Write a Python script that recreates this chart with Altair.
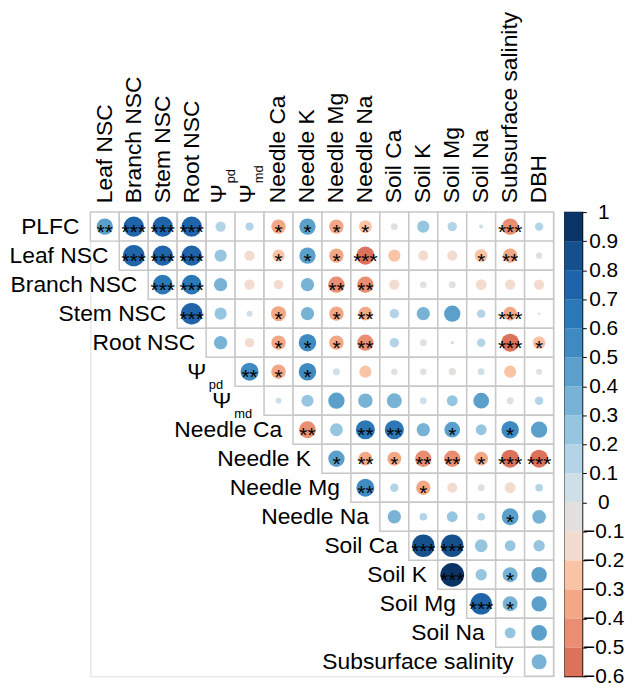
import altair as alt
import pandas as pd

FONT = "Liberation Sans"

# ---- variables ----
row_main = ["PLFC", "Leaf NSC", "Branch NSC", "Stem NSC", "Root NSC", "Ψ", "Ψ",
            "Needle Ca", "Needle K", "Needle Mg", "Needle Na", "Soil Ca", "Soil K",
            "Soil Mg", "Soil Na", "Subsurface salinity"]
row_sub = ["", "", "", "", "", "pd", "md", "", "", "", "", "", "", "", "", ""]
col_main = ["Leaf NSC", "Branch NSC", "Stem NSC", "Root NSC", "Ψ", "Ψ",
            "Needle Ca", "Needle K", "Needle Mg", "Needle Na", "Soil Ca", "Soil K",
            "Soil Mg", "Soil Na", "Subsurface salinity", "DBH"]
col_sub = ["", "", "", "", "pd", "md", "", "", "", "", "", "", "", "", "", ""]

# ---- correlations (upper triangle, each row starts at its diagonal column) ----
r_plfc = [0.45, 0.7, 0.7, 0.7, 0.18, 0.11, -0.35, 0.45, -0.35, -0.28, -0.08, 0.25, 0.15, 0.03, -0.45, 0.12]
r_leaf = [0.78, 0.7, 0.7, 0.25, -0.18, -0.25, 0.45, -0.35, -0.55, -0.25, -0.17, -0.17, -0.28, -0.35, -0.07]
r_branch = [0.65, 0.65, 0.3, -0.18, -0.15, 0.3, -0.45, -0.45, -0.18, -0.07, -0.08, -0.2, -0.18, -0.18]
r_stem = [0.78, 0.25, 0.06, -0.38, 0.3, -0.35, -0.32, 0.15, 0.3, 0.45, 0.12, -0.32, 0.01]
r_root = [0.3, -0.15, -0.35, 0.52, -0.35, -0.45, 0.15, -0.08, 0.02, 0.12, -0.55, -0.27]
r_psipd = [0.55, -0.35, 0.52, 0.08, -0.25, -0.07, -0.07, -0.09, 0.08, -0.25, -0.06]
r_psimd = [0.06, 0.25, 0.45, 0.35, 0.38, 0.08, 0.2, 0.42, -0.08, 0.12]
r_nca = [-0.48, 0.28, 0.62, 0.62, 0.3, 0.42, 0.2, 0.52, 0.45]
r_nk = [0.45, -0.32, -0.33, -0.45, -0.45, -0.32, -0.55, -0.55]
r_nmg = [0.55, 0.12, -0.35, -0.17, -0.08, -0.2, 0.1]
r_nna = [0.3, 0.1, 0.2, 0.1, 0.48, 0.32]
r_sca = [0.85, 0.85, 0.28, 0.2, 0.22]
r_sk = [0.95, 0.22, 0.38, 0.4]
r_smg = [0.78, 0.38, 0.4]
r_sna = [0.2, 0.42]
r_sal = [0.38]

s_plfc = ["**", "***", "***", "***", "", "", "*", "*", "*", "*", "", "", "", "", "***", ""]
s_leaf = ["***", "***", "***", "", "", "*", "*", "*", "***", "", "", "", "*", "**", ""]
s_branch = ["***", "***", "", "", "", "", "**", "**", "", "", "", "", "", ""]
s_stem = ["***", "", "", "*", "", "*", "**", "", "", "", "", "***", ""]
s_root = ["", "", "*", "*", "*", "**", "", "", "", "", "***", "*"]
s_psipd = ["**", "*", "*", "", "", "", "", "", "", "", ""]
s_psimd = ["", "", "", "", "", "", "", "", "", ""]
s_nca = ["**", "", "**", "**", "", "*", "", "*", ""]
s_nk = ["*", "**", "*", "**", "**", "*", "***", "***"]
s_nmg = ["**", "", "*", "", "", "", ""]
s_nna = ["", "", "", "", "*", ""]
s_sca = ["***", "***", "", "", ""]
s_sk = ["***", "", "*", ""]
s_smg = ["***", "*", ""]
s_sna = ["", ""]
s_sal = [""]

r_rows = [r_plfc, r_leaf, r_branch, r_stem, r_root, r_psipd, r_psimd, r_nca, r_nk,
          r_nmg, r_nna, r_sca, r_sk, r_smg, r_sna, r_sal]
s_rows = [s_plfc, s_leaf, s_branch, s_stem, s_root, s_psipd, s_psimd, s_nca, s_nk,
          s_nmg, s_nna, s_sca, s_sk, s_smg, s_sna, s_sal]

# colour bins of the colour bar
cb_lo = [k / 10 for k in range(-6, 10)]
cb_hi = [k / 10 for k in range(-5, 11)]
cb_colors = ["#dc725c", "#e98e72", "#f2a887", "#f9c3a6", "#f4dbd0", "#e3dfdc",
             "#cfdfe8", "#b3d4e6", "#96c5df", "#78b3d6", "#5aa0cb", "#3f8ac0",
             "#2c77b5", "#1f63a8", "#154f8c", "#0b3466"]
cb_ticks = [k / 10 for k in range(-6, 11)]
thresholds = [k / 10 for k in range(-5, 10)]

# ---- tables ----
recs = []
for i, (vals, sts) in enumerate(zip(r_rows, s_rows)):
    for k, (v, s) in enumerate(zip(vals, sts)):
        j = i + k
        recs.append(dict(ri=i, ci=j, r=v, absr=abs(v), stars=s))
cells = pd.DataFrame(recs)

rowlab = pd.DataFrame(dict(idx=list(range(16)), main=row_main, sub=row_sub))
collab = pd.DataFrame(dict(idx=list(range(16)), main=col_main, sub=col_sub))

N = 16
W = 467
H = 468
xs = alt.Scale(domain=[-0.5, N - 0.5], nice=False, zero=False)
ys = alt.Scale(domain=[-0.5, N - 0.5], nice=False, zero=False, reverse=True)

base = alt.Chart(cells)

grid = base.transform_calculate(
    x0="datum.ci - 0.5", x1="datum.ci + 0.5", y0="datum.ri - 0.5", y1="datum.ri + 0.5"
).mark_rect(fill="white", stroke="#c8c8c8", strokeWidth=1.5).encode(
    x=alt.X("x0:Q", scale=xs, axis=None), x2="x1:Q",
    y=alt.Y("y0:Q", scale=ys, axis=None), y2="y1:Q",
)

circles = base.mark_circle(opacity=1).encode(
    x=alt.X("ci:Q", scale=xs, axis=None),
    y=alt.Y("ri:Q", scale=ys, axis=None),
    size=alt.Size("absr:Q", scale=alt.Scale(domain=[0, 1], range=[0, 600]), legend=None),
    color=alt.Color("r:Q", scale=alt.Scale(type="threshold", domain=thresholds, range=cb_colors), legend=None),
)

stars_layer = base.transform_filter("datum.stars != ''").mark_text(
    fontSize=21, dy=6, align="center", baseline="middle", color="black", font=FONT
).encode(
    x=alt.X("ci:Q", scale=xs, axis=None),
    y=alt.Y("ri:Q", scale=ys, axis=None),
    text="stars:N",
)

LBL = 23
SUB = 13
RDX = -11
layers = [grid, circles, stars_layer]

# row labels
rbase = alt.Chart(rowlab).transform_calculate(left="datum.idx - 0.5")
layers.append(
    rbase.transform_filter("datum.sub == ''").mark_text(
        align="right", baseline="middle", dx=RDX, fontSize=LBL, font=FONT, color="black"
    ).encode(x=alt.X("left:Q", scale=xs, axis=None), y=alt.Y("idx:Q", scale=ys, axis=None), text="main:N")
)
sub_w = {"pd": 14, "md": 18}
for sname, sw in sub_w.items():
    f = "datum.sub == '%s'" % sname
    layers.append(
        rbase.transform_filter(f).mark_text(
            align="right", baseline="middle", dx=RDX - sw - 4, dy=0, fontSize=LBL, font=FONT, color="black"
        ).encode(x=alt.X("left:Q", scale=xs, axis=None), y=alt.Y("idx:Q", scale=ys, axis=None), text="main:N")
    )
    layers.append(
        rbase.transform_filter(f).mark_text(
            align="right", baseline="middle", dx=RDX - 1, dy=13, fontSize=SUB, font=FONT, color="black"
        ).encode(x=alt.X("left:Q", scale=xs, axis=None), y=alt.Y("idx:Q", scale=ys, axis=None), text="sub:N")
    )

# column labels
cbase = alt.Chart(collab).transform_calculate(top="-0.5")
layers.append(
    cbase.transform_filter("datum.sub == ''").mark_text(
        align="left", baseline="middle", angle=270, dx=9, fontSize=LBL, font=FONT, color="black"
    ).encode(x=alt.X("idx:Q", scale=xs, axis=None), y=alt.Y("top:Q", scale=ys, axis=None), text="main:N")
)
layers.append(
    cbase.transform_filter("datum.sub != ''").mark_text(
        align="left", baseline="middle", angle=270, dx=9, dy=-2, fontSize=LBL, font=FONT, color="black"
    ).encode(x=alt.X("idx:Q", scale=xs, axis=None), y=alt.Y("top:Q", scale=ys, axis=None), text="main:N")
)
layers.append(
    cbase.transform_filter("datum.sub != ''").mark_text(
        align="left", baseline="middle", angle=270, dx=29, dy=10, fontSize=SUB, font=FONT, color="black"
    ).encode(x=alt.X("idx:Q", scale=xs, axis=None), y=alt.Y("top:Q", scale=ys, axis=None), text="sub:N")
)

main = alt.layer(*layers).properties(width=W, height=H)

# ---- colour bar ----
cbdf = pd.DataFrame(dict(lo=cb_lo, hi=cb_hi, color=cb_colors))
cbscale = alt.Scale(domain=[cb_ticks[0], cb_ticks[-1]], nice=False, zero=False)
colorbar = alt.Chart(cbdf).mark_rect().encode(
    y=alt.Y("lo:Q", scale=cbscale, axis=alt.Axis(
        orient="right", values=cb_ticks, format=".1~f", title=None, grid=False, domain=False,
        tickSize=4, tickColor="black", tickWidth=1, labelFontSize=21, labelFont=FONT,
        labelColor="black", labelAlign="center", labelPadding=17, labelOverlap=False,
        labelBaseline="middle", labelFlush=False)),
    y2="hi:Q",
    color=alt.Color("color:N", scale=None),
).properties(width=18, height=H, view=alt.ViewBackground(stroke="black", strokeWidth=1.2))

chart = alt.hconcat(main, colorbar, spacing=11, bounds="flush").properties(
    padding=0
).configure_view(strokeWidth=0).configure(font=FONT)

chart.save("out.html", embed_options={"renderer": "svg", "actions": False})
